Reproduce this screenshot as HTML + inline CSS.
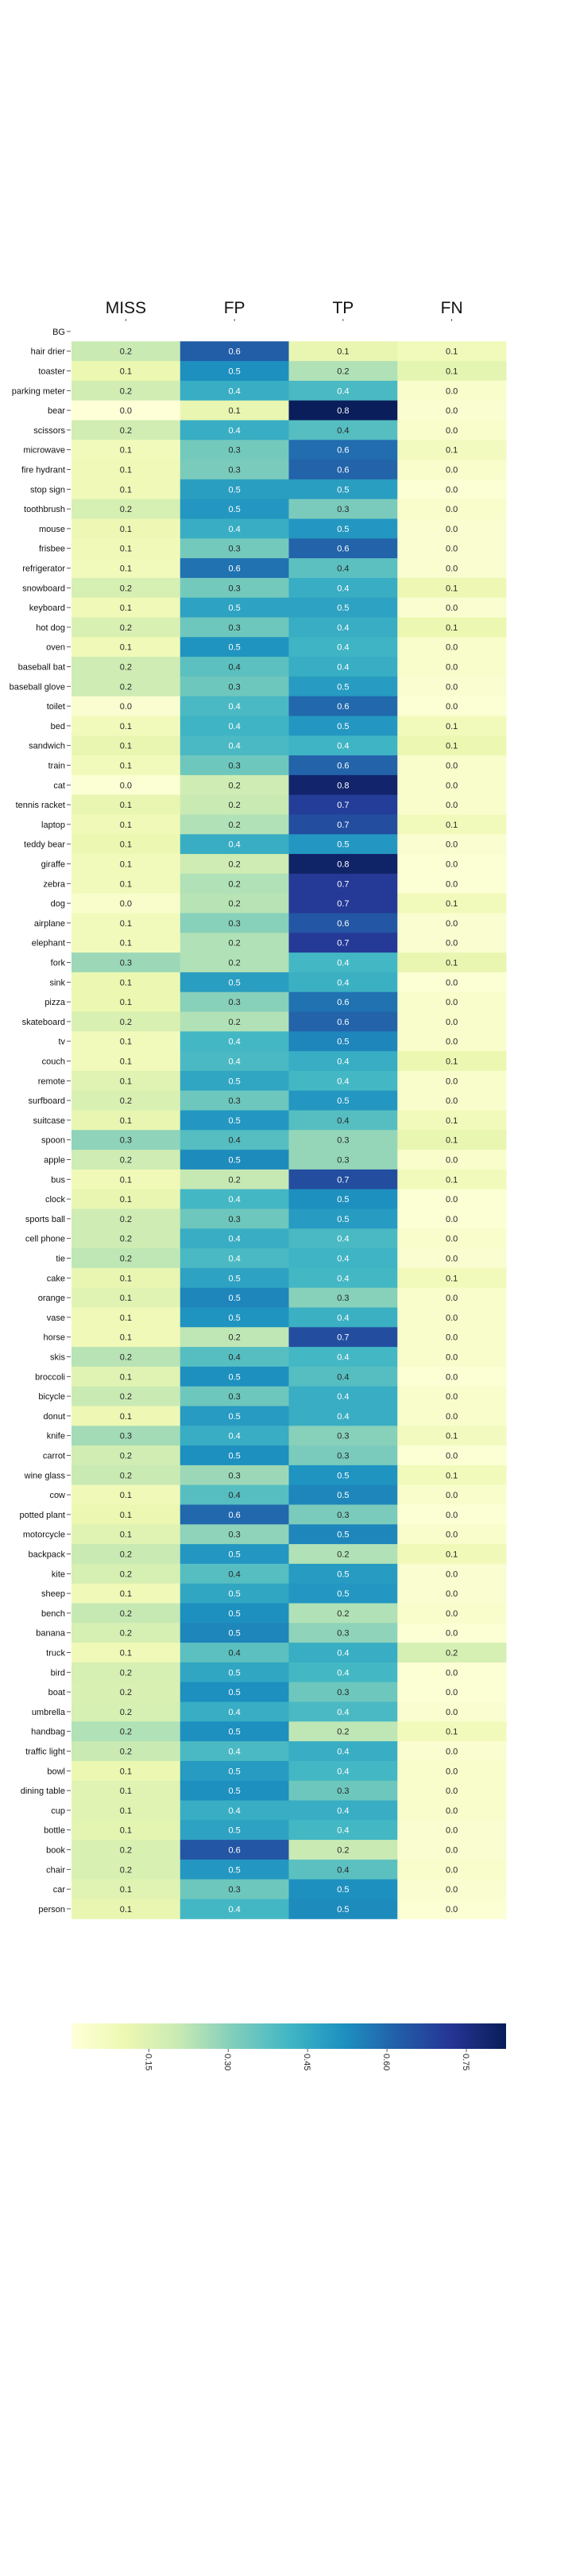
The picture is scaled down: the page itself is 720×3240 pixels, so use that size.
<!DOCTYPE html>
<html><head><meta charset="utf-8"><style>
html,body{margin:0;padding:0;background:#fff;}
svg{display:block;font-family:"Liberation Sans","DejaVu Sans",sans-serif;}
</style></head><body>
<svg id="chart" width="720" height="3240" viewBox="0 0 720 3240" xmlns="http://www.w3.org/2000/svg">
<defs><linearGradient id="cbgrad" x1="0" x2="1" y1="0" y2="0"></linearGradient></defs>
<g id="headers"></g>
<g id="rows"></g>
<g id="cbar"></g>
</svg>
<script>
const columns = ["MISS","FP","TP","FN"];
const classes = ["BG","hair drier","toaster","parking meter","bear","scissors","microwave","fire hydrant","stop sign","toothbrush","mouse","frisbee","refrigerator","snowboard","keyboard","hot dog","oven","baseball bat","baseball glove","toilet","bed","sandwich","train","cat","tennis racket","laptop","teddy bear","giraffe","zebra","dog","airplane","elephant","fork","sink","pizza","skateboard","tv","couch","remote","surfboard","suitcase","spoon","apple","bus","clock","sports ball","cell phone","tie","cake","orange","vase","horse","skis","broccoli","bicycle","donut","knife","carrot","wine glass","cow","potted plant","motorcycle","backpack","kite","sheep","bench","banana","truck","bird","boat","umbrella","handbag","traffic light","bowl","dining table","cup","bottle","book","chair","car","person"];
const missValues = [null,0.2,0.11,0.18,0.01,0.18,0.08,0.09,0.09,0.17,0.1,0.09,0.08,0.17,0.09,0.16,0.09,0.19,0.19,0.03,0.08,0.12,0.08,0.02,0.12,0.09,0.11,0.08,0.08,0.04,0.08,0.08,0.27,0.11,0.11,0.16,0.08,0.08,0.14,0.16,0.12,0.29,0.19,0.09,0.12,0.19,0.19,0.22,0.12,0.14,0.09,0.09,0.23,0.14,0.2,0.1,0.26,0.18,0.2,0.09,0.11,0.14,0.2,0.17,0.09,0.21,0.17,0.09,0.17,0.16,0.17,0.24,0.2,0.11,0.14,0.14,0.13,0.16,0.16,0.14,0.12];
const fpValues = [null,0.62,0.52,0.44,0.12,0.44,0.33,0.32,0.48,0.5,0.44,0.33,0.58,0.33,0.47,0.34,0.51,0.37,0.34,0.4,0.42,0.4,0.34,0.19,0.2,0.24,0.44,0.19,0.24,0.23,0.3,0.24,0.24,0.48,0.3,0.24,0.41,0.4,0.46,0.34,0.5,0.38,0.53,0.21,0.41,0.34,0.44,0.4,0.47,0.54,0.51,0.22,0.38,0.52,0.34,0.49,0.44,0.52,0.27,0.38,0.6,0.29,0.5,0.38,0.46,0.52,0.54,0.37,0.46,0.52,0.44,0.52,0.4,0.49,0.52,0.44,0.47,0.64,0.5,0.34,0.41];
const tpValues = [null,0.12,0.24,0.4,0.82,0.38,0.59,0.61,0.48,0.32,0.5,0.61,0.37,0.44,0.47,0.44,0.42,0.44,0.49,0.6,0.5,0.42,0.61,0.79,0.7,0.66,0.5,0.8,0.71,0.71,0.64,0.71,0.41,0.43,0.58,0.61,0.54,0.44,0.41,0.5,0.38,0.28,0.28,0.66,0.52,0.49,0.4,0.42,0.41,0.3,0.43,0.66,0.41,0.38,0.44,0.44,0.3,0.32,0.51,0.54,0.32,0.54,0.24,0.49,0.5,0.24,0.29,0.44,0.41,0.34,0.4,0.22,0.44,0.41,0.34,0.44,0.41,0.2,0.37,0.52,0.53];
const fnValues = [null,0.08,0.13,0.04,0.03,0.04,0.07,0.04,0.02,0.04,0.03,0.03,0.03,0.1,0.03,0.11,0.04,0.04,0.03,0.02,0.08,0.11,0.04,0.04,0.04,0.08,0.03,0.02,0.02,0.08,0.03,0.03,0.12,0.02,0.04,0.04,0.04,0.11,0.04,0.04,0.08,0.12,0.04,0.08,0.02,0.02,0.04,0.03,0.08,0.04,0.04,0.04,0.04,0.02,0.04,0.04,0.07,0.02,0.08,0.04,0.02,0.04,0.09,0.03,0.03,0.04,0.02,0.17,0.02,0.02,0.03,0.08,0.03,0.04,0.04,0.04,0.03,0.03,0.04,0.03,0.02];
const cbarTicks = [0.15,0.30,0.45,0.60,0.75];
const cbarTickLabels = ["0.15","0.30","0.45","0.60","0.75"];

const NS="http://www.w3.org/2000/svg";
const VMIN=0.004, VMAX=0.825;
const X0=90, X1=637, Y0=404.5, RH=24.8;
const colW=(X1-X0)/columns.length;
const stops=["#ffffd9","#edf8b1","#c7e9b4","#7fcdbb","#41b6c4","#1d91c0","#225ea8","#253494","#081d58"];
function hex(h){return [1,3,5].map(i=>parseInt(h.substr(i,2),16));}
function cmap(t){t=Math.max(0,Math.min(1,t));const p=t*(stops.length-1);const i=Math.min(stops.length-2,Math.floor(p));const f=p-i;const a=hex(stops[i]),b=hex(stops[i+1]);return a.map((v,k)=>Math.round(v+(b[k]-v)*f));}
function norm(v){return (v-VMIN)/(VMAX-VMIN);}
function xCol(i){return X0+colW*i;}
function yRow(i){return Y0+RH*i;}
function xCbar(v){return X0+norm(v)*(X1-X0);}
function lum(c){const l=c.map(v=>{v/=255;return v<=0.03928?v/12.92:Math.pow((v+0.055)/1.055,2.4);});return 0.2126*l[0]+0.7152*l[1]+0.0722*l[2];}
function mk(tag,attrs,parent){const e=document.createElementNS(NS,tag);for(const k in attrs)e.setAttribute(k,attrs[k]);parent.appendChild(e);return e;}

const headers=document.getElementById('headers');
columns.forEach((c,i)=>{
  const cx=xCol(i)+colW/2;
  const t=mk('text',{x:cx,y:394,'text-anchor':'middle','font-size':21,fill:'#111'},headers);
  
  
  t.textContent=c;
  const tk=mk('line',{x1:cx,x2:cx,y1:401,y2:404,stroke:'#333','stroke-width':0.8},headers);
  
  
});

const rows=document.getElementById('rows');
const series=[missValues,fpValues,tpValues,fnValues];
classes.forEach((name,r)=>{
  const y=yRow(r), cy=y+RH/2;
  const lab=mk('text',{x:82,y:cy+4,'text-anchor':'end','font-size':11,fill:'#111'},rows);
  
  
  lab.textContent=name;
  const tk=mk('line',{x1:84,x2:89,y1:cy,y2:cy,stroke:'#333','stroke-width':0.8},rows);
  
  
  series.forEach((arr,ci)=>{
    const v=arr[r]; if(v===null||v===undefined) return;
    const c=cmap(norm(v));
    const rect=mk('rect',{x:xCol(ci),y:y,width:colW+0.5,height:RH+0.5,fill:'rgb('+c.join(',')+')'},rows);
    
    
    const tt=mk('text',{x:xCol(ci)+colW/2,y:cy+4,'text-anchor':'middle','font-size':11,fill:lum(c)<0.408?'#ffffff':'#262626'},rows);
    
    
    tt.textContent=v.toFixed(1);
  });
});

const grad=document.getElementById('cbgrad');
for(let i=0;i<=16;i++){const c=cmap(i/16);mk('stop',{offset:(i/16*100)+'%','stop-color':'rgb('+c.join(',')+')'},grad);}
const cbar=document.getElementById('cbar');
const cb=mk('rect',{x:X0,y:2545,width:X1-X0,height:32,fill:'url(#cbgrad)'},cbar);


cbarTicks.forEach((v,i)=>{
  const x=xCbar(v);
  const l=mk('line',{x1:x,x2:x,y1:2577,y2:2581,stroke:'#333','stroke-width':0.8},cbar);
  
  
  const t=mk('text',{x:0,y:0,'font-size':11,fill:'#222',transform:'translate('+(x-4)+',2583) rotate(90)'},cbar);
  
  
  t.textContent=cbarTickLabels[i];
});
</script>
</body></html>
